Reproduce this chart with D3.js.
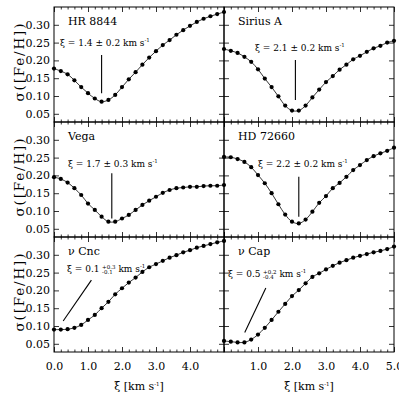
<!DOCTYPE html>
<html>
<head>
<meta charset="utf-8">
<script src="https://cdn.jsdelivr.net/npm/d3@7/dist/d3.min.js"></script>
<style>
  body { margin: 0; background: #fff; }
  text { font-family: "DejaVu Serif", serif; fill: #000; }
</style>
</head>
<body>
<script>
// microturbulence grid (km/s)
const xiGrid = [0.0, 0.2, 0.4, 0.6, 0.8, 1.0, 1.2, 1.4, 1.6, 1.8, 2.0, 2.2, 2.4,
                2.6, 2.8, 3.0, 3.2, 3.4, 3.6, 3.8, 4.0, 4.2, 4.4, 4.6, 4.8, 5.0];

// sigma([Fe/H]) per star
const hr8844  = [0.177, 0.170, 0.161, 0.144, 0.125, 0.108, 0.093, 0.084, 0.089, 0.103, 0.125, 0.147, 0.167,
                 0.188, 0.208, 0.226, 0.243, 0.257, 0.272, 0.285, 0.297, 0.308, 0.317, 0.324, 0.330, 0.336];
const siriusA = [0.232, 0.227, 0.221, 0.210, 0.196, 0.175, 0.149, 0.125, 0.099, 0.073, 0.059, 0.059, 0.073,
                 0.096, 0.118, 0.139, 0.156, 0.174, 0.188, 0.203, 0.213, 0.224, 0.234, 0.241, 0.250, 0.255];
const vega    = [0.195, 0.190, 0.180, 0.164, 0.145, 0.121, 0.103, 0.084, 0.070, 0.070, 0.079, 0.089, 0.103,
                 0.117, 0.129, 0.140, 0.151, 0.159, 0.164, 0.166, 0.168, 0.168, 0.170, 0.171, 0.171, 0.173];
const hd72660 = [0.252, 0.251, 0.246, 0.238, 0.223, 0.201, 0.178, 0.150, 0.119, 0.090, 0.070, 0.065, 0.076,
                 0.098, 0.123, 0.142, 0.164, 0.179, 0.196, 0.215, 0.229, 0.243, 0.254, 0.262, 0.269, 0.278];
const nuCnc   = [0.090, 0.090, 0.091, 0.095, 0.103, 0.117, 0.131, 0.150, 0.168, 0.189, 0.206, 0.222, 0.236,
                 0.252, 0.265, 0.274, 0.283, 0.292, 0.299, 0.307, 0.313, 0.320, 0.325, 0.330, 0.335, 0.339];
const nuCap   = [0.058, 0.056, 0.054, 0.054, 0.062, 0.076, 0.095, 0.117, 0.140, 0.162, 0.184, 0.201, 0.220,
                 0.238, 0.248, 0.259, 0.269, 0.278, 0.285, 0.292, 0.297, 0.302, 0.307, 0.311, 0.316, 0.323];

const starNames = ["HR 8844", "Sirius A", "Vega", "HD 72660", "ν Cnc", "ν Cap"];
const starSeries = [hr8844, siriusA, vega, hd72660, nuCnc, nuCap];

// adopted xi with errors
const xiBest  = [1.4, 2.1, 1.7, 2.2, 0.1, 0.5];
const xiErrUp = [0.2, 0.2, 0.3, 0.2, 0.3, 0.2];
const xiErrDn = [0.2, 0.2, 0.3, 0.2, 0.1, 0.4];

// pointer lines (data units): [[x1, y1], [x2, y2]]
const pointers = [
  [[1.4, 0.215], [1.4, 0.108]],
  [[2.1, 0.201], [2.1, 0.089]],
  [[1.7, 0.206], [1.7, 0.079]],
  [[2.2, 0.196], [2.2, 0.084]],
  [[1.10, 0.229], [0.27, 0.114]],
  [[1.23, 0.207], [0.61, 0.082]]
];

const yTicks = [0.05, 0.10, 0.15, 0.20, 0.25, 0.30];
const xMajor = [0, 1, 2, 3, 4, 5];
const xMinor = [0.2, 0.4, 0.6, 0.8, 1.2, 1.4, 1.6, 1.8, 2.2, 2.4, 2.6, 2.8,
                3.2, 3.4, 3.6, 3.8, 4.2, 4.4, 4.6, 4.8];
const xLabelsLeft = [0, 1, 2, 3, 4];
const xLabelsRight = [1, 2, 3, 4, 5];

// layout
const width = 399, height = 394;
const padLeft = 54, padTop = 7, pw = 170, ph = 115;
// annotation text offsets inside each panel [dx, baseline dy]
const xiTextPos = [[6, 39], [31, 44], [14, 44.5], [34, 45], [13, 35], [4, 40]];

const svg = d3.select("body").append("svg")
  .attr("width", width)
  .attr("height", height)
  .attr("viewBox", [0, 0, width, height]);

const x = d3.scaleLinear().domain([0, 5]).range([0, pw]);
const y = d3.scaleLinear().domain([0.027, 0.35]).range([ph, 0]);

const line = d3.line()
  .x((d, i) => x(xiGrid[i]))
  .y(d => y(d))
  .curve(d3.curveCatmullRom);

function tickAxis(g, axis, transform) {
  const a = g.append("g").attr("transform", transform).call(axis);
  a.select(".domain").remove();
  a.selectAll("line").attr("stroke", "#000").attr("stroke-width", 0.8);
  return a;
}

function addSup(textSel, s) {
  textSel.append("tspan").attr("dy", -4).attr("font-size", 5.5).text(s);
}

function xiLabel(g, i) {
  const [dx, dy] = xiTextPos[i];
  const fs = 9;
  const best = xiBest[i].toFixed(1);
  if (xiErrUp[i] === xiErrDn[i]) {
    const t = g.append("text").attr("x", dx).attr("y", dy).attr("font-size", fs)
      .text(`ξ = ${best} ± ${xiErrUp[i].toFixed(1)} km s`);
    addSup(t, "-1");
  } else {
    const t1 = g.append("text").attr("x", dx).attr("y", dy).attr("font-size", fs)
      .text(`ξ = ${best}`);
    const w1 = t1.node().getComputedTextLength() + 2.5;
    const up = g.append("text").attr("x", dx + w1).attr("y", dy - 3.5).attr("font-size", 5.5)
      .text("+" + xiErrUp[i].toFixed(1));
    const dn = g.append("text").attr("x", dx + w1).attr("y", dy + 1.5).attr("font-size", 5.5)
      .text("-" + xiErrDn[i].toFixed(1));
    const w2 = Math.max(up.node().getComputedTextLength(), dn.node().getComputedTextLength());
    const t2 = g.append("text").attr("x", dx + w1 + w2 + 3).attr("y", dy).attr("font-size", fs)
      .text("km s");
    addSup(t2, "-1");
  }
}

starSeries.forEach((series, i) => {
  const col = i % 2, row = Math.floor(i / 2);
  const g = svg.append("g")
    .attr("transform", `translate(${padLeft + col * pw},${padTop + row * ph})`);

  // ticks on all four sides, pointing inwards
  tickAxis(g, d3.axisBottom(x).tickValues(xMinor).tickSize(-2.5).tickFormat(""), `translate(0,${ph})`);
  tickAxis(g, d3.axisBottom(x).tickValues(xMajor).tickSize(-5).tickFormat(""), `translate(0,${ph})`);
  tickAxis(g, d3.axisTop(x).tickValues(xMinor).tickSize(-2.5).tickFormat(""), "translate(0,0)");
  tickAxis(g, d3.axisTop(x).tickValues(xMajor).tickSize(-5).tickFormat(""), "translate(0,0)");
  tickAxis(g, d3.axisLeft(y).tickValues(yTicks).tickSize(-5).tickFormat(""), "translate(0,0)");
  tickAxis(g, d3.axisRight(y).tickValues(yTicks).tickSize(-5).tickFormat(""), `translate(${pw},0)`);

  // y labels on the left column
  if (col === 0) {
    const ya = g.append("g").call(d3.axisLeft(y).tickValues(yTicks).tickSize(0).tickPadding(4)
      .tickFormat(d3.format(".2f")));
    ya.select(".domain").remove();
    ya.selectAll("text").attr("font-family", "DejaVu Serif").attr("font-size", 11);

    g.append("text")
      .attr("transform", `translate(-30,${ph / 2 - 2}) rotate(-90)`)
      .attr("text-anchor", "middle")
      .attr("font-size", 13.5)
      .attr("textLength", 78)
      .attr("lengthAdjust", "spacing")
      .text("σ([Fe/H])");
  }

  // x labels on the bottom row
  if (row === 2) {
    const xa = g.append("g").attr("transform", `translate(0,${ph})`)
      .call(d3.axisBottom(x).tickValues(col === 0 ? xLabelsLeft : xLabelsRight)
        .tickSize(0).tickPadding(10).tickFormat(d3.format(".1f")));
    xa.select(".domain").remove();
    xa.selectAll("text").attr("font-family", "DejaVu Serif").attr("font-size", 11);

    const xt = g.append("text")
      .attr("x", pw / 2).attr("y", ph + 38)
      .attr("text-anchor", "middle")
      .attr("font-size", 11)
      .text("ξ [km s");
    addSup(xt, "-1");
    xt.append("tspan").attr("dy", 4).text("]");
  }

  // curve and points
  g.append("path")
    .datum(series)
    .attr("d", line)
    .attr("fill", "none")
    .attr("stroke", "#000")
    .attr("stroke-width", 0.8);

  g.selectAll("circle")
    .data(series)
    .join("circle")
    .attr("cx", (d, k) => x(xiGrid[k]))
    .attr("cy", d => y(d))
    .attr("r", 2.1)
    .attr("fill", "#000");

  // pointer line
  const p = pointers[i];
  g.append("line")
    .attr("x1", x(p[0][0])).attr("y1", y(p[0][1]))
    .attr("x2", x(p[1][0])).attr("y2", y(p[1][1]))
    .attr("stroke", "#000")
    .attr("stroke-width", 1.1);

  // star name and xi label
  g.append("text")
    .attr("x", 14).attr("y", 17.5)
    .attr("font-size", 11)
    .text(starNames[i]);
  xiLabel(g, i);

  // frame
  g.append("rect")
    .attr("width", pw).attr("height", ph)
    .attr("fill", "none")
    .attr("stroke", "#000")
    .attr("stroke-width", 1);
});
</script>
</body>
</html>
